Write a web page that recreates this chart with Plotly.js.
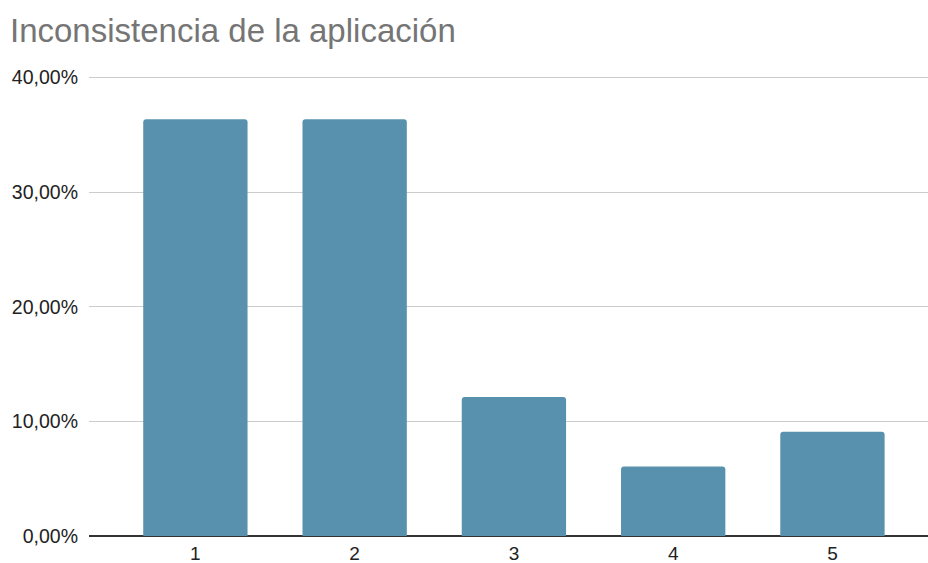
<!DOCTYPE html>
<html>
<head>
<meta charset="utf-8">
<script src="https://cdn.plot.ly/plotly-3.0.1.min.js"></script>
<style>html,body{margin:0;padding:0;background:#fff;}#chart{width:928px;height:563px;}</style>
</head>
<body>
<div id="chart"></div>
<script>
const categories = ["1", "2", "3", "4", "5"];
const values = [0.3636, 0.3636, 0.1212, 0.0606, 0.0909];
const yTicks = [0, 0.1, 0.2, 0.3, 0.4];
const titleText = "Inconsistencia de la aplicación";

const trace = {
  type: "bar",
  x: categories.map(Number),
  y: values,
  marker: {color: "#5891ae", cornerradius: 3},
  hoverinfo: "none"
};

const layout = {
  width: 928,
  height: 563,
  separators: ",.",
  margin: {l: 89, r: 0, t: 75, b: 27, pad: 0},
  paper_bgcolor: "#ffffff",
  plot_bgcolor: "#ffffff",
  font: {family: "Liberation Sans, Arial, sans-serif", color: "#222222", size: 19},
  title: {
    text: titleText,
    font: {family: "Liberation Sans, Arial, sans-serif", size: 33, color: "#757575"},
    xref: "container", x: 10/928, xanchor: "left",
    yref: "container", y: 1 - 30/563, yanchor: "middle"
  },
  bargap: 0.345,
  showlegend: false,
  xaxis: {
    type: "linear",
    range: [0.332, 5.6],
    tickvals: categories.map(Number),
    ticktext: categories,
    showgrid: false,
    zeroline: false,
    showline: false,
    ticks: "",
    ticklabelstandoff: 4,
    automargin: false,
    tickfont: {size: 19, color: "#222222"}
  },
  yaxis: {
    range: [0, 0.4022],
    tickvals: yTicks,
    tickformat: ".2%",
    showgrid: true,
    gridcolor: "#cccccc",
    gridwidth: 1,
    zeroline: true,
    zerolinecolor: "#333333",
    zerolinewidth: 1.5,
    showline: false,
    ticks: "",
    ticklabelstandoff: 10,
    automargin: false,
    tickfont: {size: 19.5, color: "#222222"}
  }
};

Plotly.newPlot("chart", [trace], layout, {displayModeBar: false, staticPlot: true});
</script>
</body>
</html>
